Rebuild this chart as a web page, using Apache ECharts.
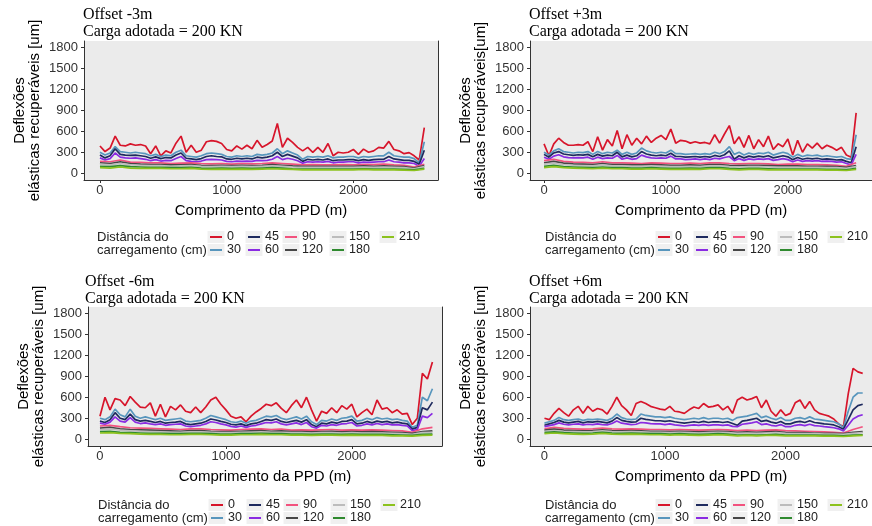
<!DOCTYPE html>
<html>
<head>
<meta charset="utf-8">
<script src="https://cdn.jsdelivr.net/npm/echarts@6/dist/echarts.min.js"></script>
<style>
  html, body { margin: 0; padding: 0; background: #fff; }
  #chart { width: 872px; height: 526px; }
</style>
</head>
<body>
<div id="chart"></div>
<script>
// distância ao longo da PPD (m)
var dist = [0,40,80,120,160,200,240,280,320,360,400,440,480,520,560,600,640,680,720,760,800,840,880,920,960,1000,1040,1080,1120,1160,1200,1240,1280,1320,1360,1400,1440,1480,1520,1560,1600,1640,1680,1720,1760,1800,1840,1880,1920,1960,2000,2040,2080,2120,2160,2200,2240,2280,2320,2360,2400,2440,2480,2520,2560,2600,2640];
var distCoarse = [0,80,160,240,320,400,480,560,640,720,800,880,960,1040,1120,1200,1280,1360,1440,1520,1600,1680,1760,1840,1920,2000,2080,2160,2240,2320,2400,2480,2560,2640];

var groups = ['0', '30', '45', '60', '90', '120', '150', '180', '210'];
var colors = ['#d7152b', '#5896bd', '#1e2a5e', '#8a2be2', '#f2527e', '#474747', '#bcbcbc', '#2f8a2f', '#8cc21e'];
var yTicks = [0, 300, 600, 900, 1200, 1500, 1800];
var xTicks = [0, 1000, 2000];

// Offset -3m
var tl0 = [390,310,360,530,400,390,420,400,410,390,280,390,250,320,290,430,530,300,400,300,330,450,465,455,425,340,320,390,345,400,350,470,370,410,460,710,370,500,440,370,320,370,300,370,300,425,250,300,290,300,340,270,345,300,320,370,360,455,340,320,280,295,250,190,650];
var tl30 = [300,260,290,380,310,300,290,300,290,280,250,270,240,260,250,300,330,250,240,230,250,280,290,280,270,240,230,250,240,250,240,270,260,270,290,350,280,320,290,260,200,240,230,240,230,250,220,230,230,240,240,220,240,230,240,250,250,300,250,240,230,230,210,150,450];
var tl45 = [260,220,250,350,270,260,255,260,250,240,215,235,210,225,220,260,290,215,205,195,210,240,250,240,235,205,200,215,205,215,205,230,220,230,250,300,240,270,245,220,170,200,190,200,190,205,180,190,190,195,195,180,195,185,195,200,200,240,205,195,185,185,170,130,330];
var tl60 = [220,190,210,290,230,220,215,220,210,200,180,195,175,185,180,210,240,180,170,165,175,195,200,195,190,170,165,175,170,175,170,185,180,185,200,240,195,215,200,180,145,165,160,165,160,170,150,160,160,165,165,150,160,155,160,165,165,190,165,160,150,150,140,100,210];
var tl90 = [170,165,190,160,155,150,150,140,145,150,140,135,140,130,140,135,140,150,140,130,120,125,120,120,125,120,125,125,130,120,115,90,130];
var tl120 = [150,140,165,140,130,125,125,120,120,125,115,110,115,110,115,110,115,125,115,105,100,100,100,100,100,100,105,100,105,100,95,75,110];
var tl150 = [130,120,140,120,115,110,110,100,105,110,100,95,100,95,100,95,100,105,100,90,85,85,85,85,85,85,90,85,90,85,80,65,95];
var tl180 = [100,95,110,95,90,85,85,80,80,85,75,70,75,70,75,70,75,80,75,65,60,60,60,60,60,60,65,60,60,60,55,50,70];
var tl210 = [80,75,90,75,70,70,70,65,65,70,60,55,60,55,60,55,60,65,60,55,50,50,50,50,50,50,55,50,50,50,45,40,60];

// Offset +3m
var tr0 = [420,250,420,500,440,400,400,410,400,450,310,520,330,480,390,610,350,550,400,500,420,530,440,500,540,480,630,430,470,460,430,450,430,440,420,550,430,560,680,420,520,370,540,350,480,380,530,340,420,380,490,260,470,300,420,360,430,350,400,370,330,370,260,230,860];
var tr30 = [300,260,320,350,310,300,290,300,295,310,270,310,280,300,290,330,270,300,270,290,360,320,300,290,300,290,330,280,280,270,275,280,270,280,270,300,280,310,380,270,300,260,290,270,290,280,300,260,280,300,280,230,270,240,260,250,260,240,250,240,230,240,210,200,550];
var tr45 = [270,230,290,310,275,265,255,265,260,270,235,270,245,260,250,300,235,260,235,250,310,275,260,250,260,250,285,240,240,230,235,240,230,240,230,255,240,265,320,200,250,220,245,230,245,235,250,220,235,250,235,195,225,200,215,205,215,200,205,200,190,195,170,150,380];
var tr60 = [230,200,245,265,235,225,220,225,220,230,200,230,210,220,215,255,200,220,200,210,260,235,220,215,220,215,245,205,205,195,200,205,195,205,195,215,205,225,240,180,210,185,205,195,205,200,210,185,195,210,195,165,190,170,180,175,180,170,175,170,160,165,140,120,270];
var tr90 = [180,200,170,160,155,150,165,150,150,145,140,150,145,140,140,145,140,150,150,140,135,140,140,135,125,130,130,125,125,120,115,100,150];
var tr120 = [150,170,145,135,130,125,140,125,125,120,120,125,120,115,115,120,115,125,125,115,110,115,115,110,105,105,105,100,100,100,95,85,110];
var tr150 = [130,145,125,115,110,105,120,105,105,100,100,105,100,95,95,100,95,105,105,95,90,95,95,90,85,85,85,85,85,80,80,70,95];
var tr180 = [100,115,95,90,85,80,90,80,80,75,75,80,75,70,70,75,70,80,80,70,65,70,70,65,60,60,60,60,60,55,55,50,70];
var tr210 = [80,95,80,75,70,65,75,65,65,60,60,65,60,55,55,60,55,65,65,55,50,55,55,50,50,50,50,50,50,45,45,40,55];

// Offset -6m
var bl0 = [330,600,420,580,560,480,610,530,460,450,520,330,500,320,470,420,490,400,380,460,380,460,560,600,500,420,330,300,320,250,330,390,440,500,480,520,440,380,480,560,450,600,420,260,400,370,450,380,480,430,500,320,380,430,350,560,430,450,380,420,360,370,210,300,940,860,1100];
var bl30 = [300,280,320,430,350,320,430,330,300,320,300,280,300,270,280,290,300,260,250,260,270,300,340,320,300,280,250,240,260,230,260,270,300,330,320,340,300,280,300,320,290,330,250,210,270,260,290,270,300,310,330,260,270,300,280,310,290,300,280,290,270,260,170,200,600,550,720];
var bl45 = [260,240,280,380,300,280,360,280,260,270,255,240,255,230,240,245,255,220,210,220,230,255,290,275,255,240,215,205,220,195,220,230,255,280,270,290,255,240,255,270,245,280,210,180,230,220,245,230,255,260,280,220,230,255,235,260,245,255,235,245,230,220,145,170,450,420,530];
var bl60 = [230,215,245,320,260,245,310,245,225,235,220,210,220,200,210,215,220,190,180,190,200,220,250,240,220,205,185,175,190,170,190,200,220,240,235,250,220,205,220,235,210,240,180,160,200,190,210,200,220,225,240,190,200,220,205,225,210,220,205,210,200,190,125,140,330,310,370];
var bl90 = [190,200,180,165,160,155,150,145,140,150,150,140,135,130,140,145,150,140,145,130,135,130,135,140,130,135,130,135,130,125,120,100,150,170];
var bl120 = [160,170,150,140,135,130,125,120,115,125,125,115,110,110,115,120,125,115,120,110,110,105,110,115,105,110,105,110,105,100,95,85,110,120];
var bl150 = [140,150,130,120,115,110,105,100,100,105,105,100,95,95,100,100,105,100,100,95,95,90,95,95,90,95,90,90,90,85,80,70,95,100];
var bl180 = [110,115,100,95,90,85,85,80,80,85,85,80,75,75,80,80,85,80,80,75,75,70,75,75,70,75,70,70,70,65,60,55,70,75];
var bl210 = [90,95,85,80,75,70,70,65,65,70,70,65,60,60,65,65,70,65,65,60,60,55,60,60,55,60,55,55,55,50,50,45,55,60];

// Offset +6m
var br0 = [300,280,370,440,380,330,420,470,370,470,400,440,420,360,470,600,480,420,340,510,540,510,470,450,430,420,470,400,390,370,420,460,440,510,460,470,490,420,470,370,560,600,560,580,610,450,560,400,330,420,340,370,520,560,440,540,420,370,350,330,290,220,180,650,1010,960,940];
var br30 = [230,250,270,310,280,270,280,290,270,285,280,290,280,270,300,360,310,290,280,290,360,340,330,320,320,310,320,300,290,280,290,300,290,310,290,300,300,290,300,270,310,320,330,350,370,310,330,300,280,310,270,270,300,310,290,320,290,280,270,260,250,220,170,400,600,660,660];
var br45 = [200,220,240,270,245,235,245,255,235,250,245,255,245,235,260,310,270,255,245,250,300,285,275,265,265,255,265,250,240,230,240,250,240,255,240,250,250,240,250,225,200,260,270,285,300,255,270,245,230,255,220,220,245,255,240,265,240,230,220,215,205,180,145,280,420,480,500];
var br60 = [180,195,210,235,215,205,215,220,205,215,210,220,210,205,225,260,230,220,210,215,240,235,225,220,220,210,220,205,200,190,200,205,200,210,200,205,205,200,205,185,180,215,225,235,250,210,220,200,190,210,180,180,200,210,195,215,195,190,180,175,165,150,120,200,290,330,350];
var br90 = [150,170,155,150,145,150,160,150,145,150,145,140,140,135,140,135,130,135,140,135,125,130,125,130,135,125,120,115,110,105,100,90,140,180];
var br120 = [130,145,130,125,120,125,135,125,120,125,120,115,115,110,115,110,105,110,115,110,100,105,100,105,110,100,95,95,90,85,85,80,100,110];
var br150 = [115,125,115,110,105,110,120,110,105,110,105,100,100,95,100,95,90,95,100,95,85,90,85,90,95,85,80,80,80,75,75,70,85,95];
var br180 = [95,105,95,90,85,90,100,90,85,90,85,80,80,75,80,75,70,75,80,75,60,65,60,65,70,60,60,60,60,55,55,50,60,65];
var br210 = [80,90,80,75,70,75,85,75,70,75,70,65,65,60,65,60,55,60,65,60,50,55,50,55,55,50,50,50,50,45,45,40,50,55];

var sans = 'Liberation Sans, Arial, sans-serif';
var serif = 'Liberation Serif, Times New Roman, serif';
var keyOffsets = [113, 151, 188, 235, 285];

var panels = [
    { title: 'Offset -3m', yName: 'Deflexões\nelásticas recuperáveis [um]', left: 84, top: 41, width: 354,
      xMin: -126, xMax: 2668, titleLeft: 83, titleTop: 6, legLeft: 97, legTop: 230.5, border: true,
      lines: [tl0, tl30, tl45, tl60, tl90, tl120, tl150, tl180, tl210] },
    { title: 'Offset +3m', yName: 'Deflexões\nelásticas recuperáveis[um]', left: 530, top: 41, width: 354,
      xMin: -115, xMax: 2690, titleLeft: 529, titleTop: 6, legLeft: 545, legTop: 230.5, border: false,
      lines: [tr0, tr30, tr45, tr60, tr90, tr120, tr150, tr180, tr210] },
    { title: 'Offset -6m', yName: 'Deflexões\nelásticas recuperáveis [um]', left: 88, top: 307, width: 354,
      xMin: -95, xMax: 2716, titleLeft: 85, titleTop: 273, legLeft: 98, legTop: 498.5, border: true,
      lines: [bl0, bl30, bl45, bl60, bl90, bl120, bl150, bl180, bl210] },
    { title: 'Offset +6m', yName: 'Deflexões\nelásticas recuperáveis [um]', left: 530, top: 307, width: 356,
      xMin: -120, xMax: 2717, titleLeft: 529, titleTop: 273, legLeft: 545, legTop: 498.5, border: false,
      lines: [br0, br30, br45, br60, br90, br120, br150, br180, br210] }
];

function pairs(xs, ys) {
    return ys.map(function (v, k) { return [xs[k], v]; });
}

function plain(v) {
    return String(v); // sem separador de milhar
}

var option = {
    animation: false,
    title: [], grid: [], xAxis: [], yAxis: [], legend: [], series: [], graphic: []
};

var axisColor = '#333';
var borderAxes = [];

panels.forEach(function (p, i) {
    option.grid.push({
        left: p.left, top: p.top, width: p.width, height: 139,
        show: true, backgroundColor: '#ebebeb', borderWidth: 0
    });

    option.xAxis.push({
        type: 'value', gridIndex: i, min: p.xMin, max: p.xMax,
        name: 'Comprimento da PPD (m)', nameLocation: 'middle', nameGap: 23,
        nameTextStyle: { fontFamily: sans, fontSize: 15, color: '#000' },
        axisLine: { show: true, onZero: false, lineStyle: { color: axisColor, width: 1 } },
        axisTick: { show: true, customValues: xTicks, length: 3, lineStyle: { color: axisColor } },
        axisLabel: { customValues: xTicks, formatter: plain, margin: 4, fontFamily: sans, fontSize: 13, color: axisColor },
        splitLine: { show: false }
    });

    option.yAxis.push({
        type: 'value', gridIndex: i, min: -95, max: 1885, position: 'left',
        name: p.yName, nameLocation: 'middle', nameGap: 42,
        nameTextStyle: { fontFamily: sans, fontSize: 15, color: '#000', lineHeight: 15 },
        axisLine: { show: true, onZero: false, lineStyle: { color: axisColor, width: 1 } },
        axisTick: { show: true, customValues: yTicks, length: 3, lineStyle: { color: axisColor } },
        axisLabel: { customValues: yTicks, formatter: plain, margin: 6, fontFamily: sans, fontSize: 13, color: axisColor },
        splitLine: { show: false }
    });
    if (p.border) borderAxes.push(i);

    option.title.push({
        text: p.title + '\nCarga adotada = 200 KN', left: p.titleLeft, top: p.titleTop, padding: 0,
        textStyle: { fontFamily: serif, fontSize: 16, fontWeight: 'normal', color: '#000', lineHeight: 17 }
    });
    option.title.push({
        text: 'Distância do\ncarregamento (cm)', left: p.legLeft, top: p.legTop, padding: 0,
        textStyle: { fontFamily: sans, fontSize: 13, fontWeight: 'normal', color: '#222', lineHeight: 13 }
    });

    // legenda em duas linhas, preenchida por coluna
    for (var c = 0; c < 5; c++) {
        var items = groups.slice(c * 2, c * 2 + 2);
        option.legend.push({
            orient: 'vertical', left: p.legLeft + keyOffsets[c], top: p.legTop, padding: 0,
            itemGap: 0, itemWidth: 12, itemHeight: 2, icon: 'rect', selectedMode: false,
            data: items,
            textStyle: { fontFamily: sans, fontSize: 12.5, color: '#222', lineHeight: 13 }
        });
        items.forEach(function (g, r) {
            option.graphic.push({
                type: 'rect', z: -1, silent: true,
                shape: { x: p.legLeft + keyOffsets[c] - 2.5, y: p.legTop + r * 13 + 0.5, width: 17, height: 12 },
                style: { fill: '#f0f0f0' }
            });
        });
    }

    groups.forEach(function (g, gi) {
        var xs = gi < 4 ? dist : distCoarse;
        option.series.push({
            name: g, type: 'line', xAxisIndex: i, yAxisIndex: i,
            data: pairs(xs, p.lines[gi]),
            showSymbol: false, symbol: 'none', clip: true,
            lineStyle: { color: colors[gi], width: 1.7 },
            itemStyle: { color: colors[gi] },
            emphasis: { disabled: true }
        });
    });
});

// borda direita dos painéis da esquerda
borderAxes.forEach(function (gi) {
    option.yAxis.push({
        type: 'value', gridIndex: gi, position: 'right', min: 0, max: 1,
        axisLine: { show: true, onZero: false, lineStyle: { color: axisColor, width: 1 } },
        axisTick: { show: false }, axisLabel: { show: false }, splitLine: { show: false }
    });
});

var chart = echarts.init(document.getElementById('chart'), null, { renderer: 'canvas' });
chart.setOption(option);
</script>
</body>
</html>
